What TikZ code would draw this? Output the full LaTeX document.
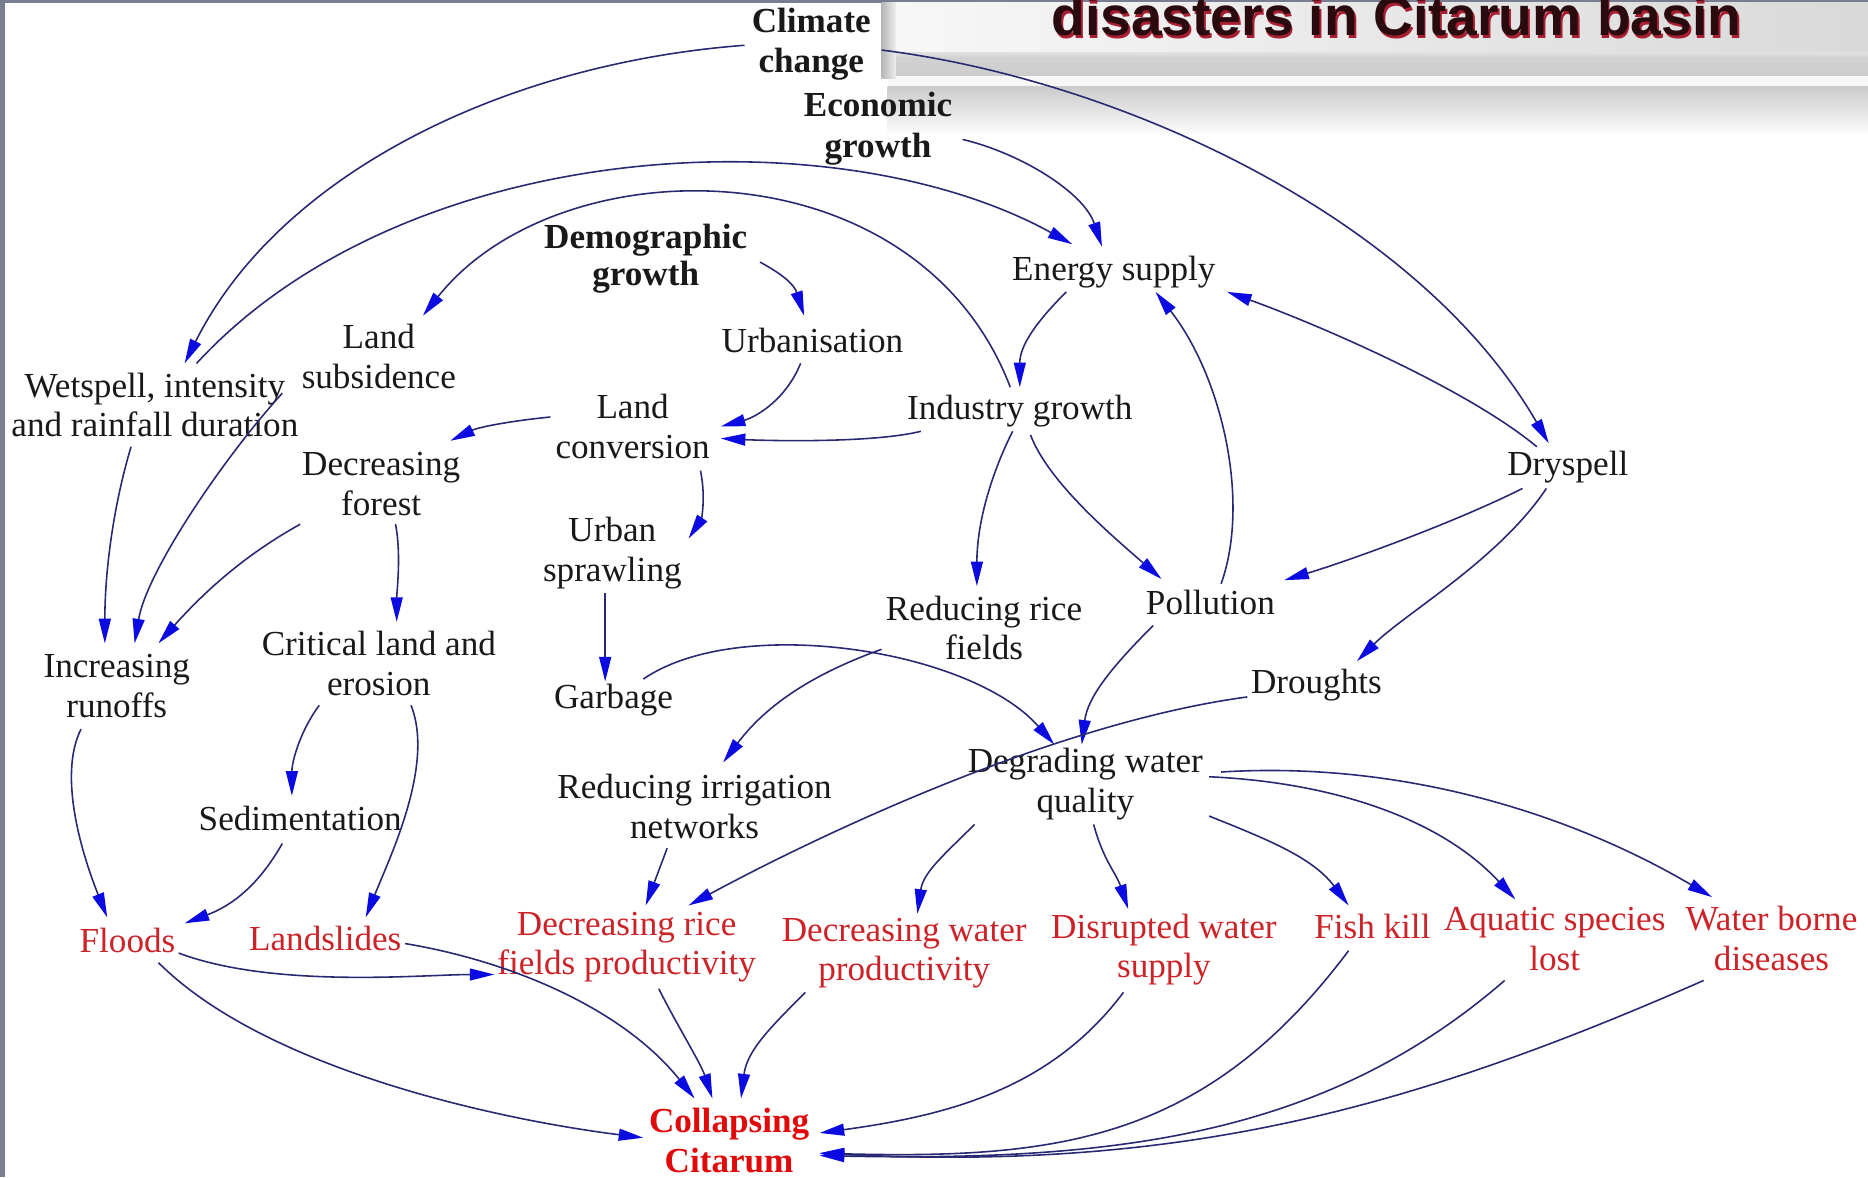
\documentclass[tikz,border=0pt]{standalone}
\usepackage{fontspec}
\setmainfont{Liberation Serif}
\newfontfamily\titlefont{Liberation Sans}
\usetikzlibrary{arrows.meta}
\definecolor{linec}{RGB}{40,40,115}
\definecolor{tipc}{RGB}{10,10,225}
\definecolor{redt}{RGB}{205,35,40}
\definecolor{redb}{RGB}{225,10,10}
\definecolor{txtc}{RGB}{25,25,25}
\definecolor{bordc}{RGB}{120,125,145}
\definecolor{ttlc}{RGB}{40,10,15}
\definecolor{ttls}{RGB}{170,30,50}
\begin{document}
\begin{tikzpicture}[x=0.011913cm,y=-0.011913cm,
 lbl/.style={align=center,inner sep=0pt,text=txtc,font=\fontsize{10}{11.3}\selectfont},
 blbl/.style={lbl,font=\fontsize{10}{11.4}\selectfont\bfseries},
 rlbl/.style={lbl,text=redt},
 edge/.style={draw=linec,line width=0.45pt,-{Triangle[length=7pt,width=3.4pt,color=tipc]}}
]
\clip (0,0) rectangle (1568,988);
\fill[white] (0,0) rectangle (1568,988);
% frame
\fill[bordc] (0,0) rectangle (4,988);
\fill[bordc] (0,0) rectangle (1568,2.5);
% banner
\shade[left color=white!97!black, right color=white!85!black] (742,2.5) rectangle (1568,44);
\shade[top color=white!88!black, bottom color=white!80!black] (752,44) rectangle (1568,50);
\shade[top color=white!82!black, middle color=white!68!black, bottom color=white!80!black] (745,50) rectangle (1568,64);
\fill[white!97!black] (745,64) rectangle (1568,73);
\shade[top color=white!80!black, bottom color=white] (745,73) rectangle (1568,115);
\shade[left color=white!72!black, right color=white!93!black] (740,2.5) rectangle (752,66);
\node[anchor=base west,inner sep=0pt,text=ttls,font=\fontsize{15.7}{16}\titlefont\bfseries] (ttlsh) at (883.5,32.5) {disasters in Citarum basin};
\node[anchor=base west,inner sep=0pt,text=ttlc,font=\fontsize{15.7}{16}\titlefont\bfseries] (ttl) at (882,30) {disasters in Citarum basin};

% nodes
\node[blbl] (CC) at (681,37) {Climate\\change};
\node[blbl] (EG) at (737,108) {Economic\\growth};
\node[blbl,font=\fontsize{10}{10.4}\selectfont\bfseries] (DG) at (542,217) {Demographic\\growth};
\node[lbl] (ES) at (935,228) {Energy supply};
\node[lbl] (LS) at (318,299) {Land\\subsidence};
\node[lbl] (UR) at (682,286) {Urbanisation};
\node[lbl] (WS) at (130,340) {Wetspell, intensity\\and rainfall duration};
\node[lbl] (LC) at (531,358) {Land\\conversion};
\node[lbl] (IG) at (856,345) {Industry growth};
\node[lbl] (DF) at (320,406) {Decreasing\\forest};
\node[lbl] (DS) at (1316,392) {Dryspell};
\node[lbl] (US) at (514,464) {Urban\\sprawling};
\node[lbl] (PO) at (1016,506) {Pollution};
\node[lbl] (RR) at (826,527) {Reducing rice\\fields};
\node[lbl] (IR) at (98,576) {Increasing\\runoffs};
\node[lbl] (CL) at (318,557) {Critical land and\\erosion};
\node[lbl] (GA) at (515,588) {Garbage};
\node[lbl] (DR) at (1105,575) {Droughts};
\node[lbl] (DW) at (911,658) {Degrading water\\quality};
\node[lbl] (RI) at (583,677) {Reducing irrigation\\networks};
\node[lbl] (SE) at (252,687) {Sedimentation};
\node[rlbl] (FL) at (107,789) {Floods};
\node[rlbl] (LA) at (273,788) {Landslides};
\node[rlbl] (DP) at (526,795) {Decreasing rice\\fields productivity};
\node[rlbl] (WP) at (759,800) {Decreasing water\\productivity};
\node[rlbl] (DWS) at (977,797) {Disrupted water\\supply};
\node[rlbl] (FK) at (1152,778) {Fish kill};
\node[rlbl] (AQ) at (1305,788) {Aquatic species\\lost};
\node[rlbl] (WB) at (1487,788) {Water borne\\diseases};
\node[blbl,text=redb] (CO) at (612,957) {Collapsing\\Citarum};

% edges
\draw[edge] ([shift={(-56,1)}]CC.center) .. controls +(-200,15) and +(80,-160) .. ([shift={(25,-35)}]WS.center);
\draw[edge] ([shift={(59,5)}]CC.center) .. controls +(200,25) and +(-110,-190) .. ([shift={(-16,-20)}]DS.center);
\draw[edge] ([shift={(71,9)}]EG.center) .. controls +(50,12) and +(-15,-45) .. ([shift={(-10,-21)}]ES.center);
\draw[edge] ([shift={(35,-35)}]WS.center) .. controls +(175,-190) and +(-200,-110) .. ([shift={(-35,-23)}]ES.center);
\draw[edge] ([shift={(-8,-20)}]IG.center) .. controls +(-78,-205) and +(115,-145) .. ([shift={(37,-34)}]LS.center);
\draw[edge] ([shift={(-20,35)}]WS.center) .. controls +(-15,50) and +(0,-60) .. ([shift={(-10,-36)}]IR.center);
\draw[edge] ([shift={(-81,31)}]LS.center) .. controls +(-50,55) and +(10,-60) .. ([shift={(15,-36)}]IR.center);
\draw[edge] ([shift={(-68,34)}]DF.center) .. controls +(-45,25) and +(40,-45) .. ([shift={(35,-36)}]IR.center);
\draw[edge] ([shift={(96,3)}]DG.center) .. controls +(22,12) and +(-8,-25) .. ([shift={(-7,-21)}]UR.center);
\draw[edge] ([shift={(-10,19)}]UR.center) .. controls +(-12,30) and +(30,-8) .. ([shift={(74,0)}]LC.center);
\draw[edge] ([shift={(-83,17)}]IG.center) .. controls +(-40,10) and +(40,2) .. ([shift={(74,10)}]LC.center);
\draw[edge] ([shift={(-69,-8)}]LC.center) .. controls +(-30,3) and +(25,-12) .. ([shift={(58,-36)}]DF.center);
\draw[edge] ([shift={(57,37)}]LC.center) .. controls +(5,25) and +(10,-15) .. ([shift={(64,-12)}]US.center);
\draw[edge] ([shift={(12,34)}]DF.center) .. controls +(5,25) and +(0,-25) .. ([shift={(15,-35)}]CL.center);
\draw[edge] ([shift={(-40,17)}]ES.center) .. controls +(-25,25) and +(0,-35) .. ([shift={(0,-20)}]IG.center);
\draw[edge] ([shift={(-6,17)}]IG.center) .. controls +(-20,40) and +(0,-50) .. ([shift={(-6,-35)}]RR.center);
\draw[edge] ([shift={(9,20)}]IG.center) .. controls +(15,40) and +(-40,-35) .. ([shift={(-41,-20)}]PO.center);
\draw[edge] ([shift={(9,-16)}]PO.center) .. controls +(25,-70) and +(55,70) .. ([shift={(35,17)}]ES.center);
\draw[edge] ([shift={(-26,-17)}]DS.center) .. controls +(-60,-50) and +(70,25) .. ([shift={(95,17)}]ES.center);
\draw[edge] ([shift={(-38,18)}]DS.center) .. controls +(-60,30) and +(50,-15) .. ([shift={(62,-19)}]PO.center);
\draw[edge] ([shift={(-18,18)}]DS.center) .. controls +(-40,60) and +(40,-40) .. ([shift={(34,-20)}]DR.center);
\draw[edge] ([shift={(-6,34)}]US.center) -- ([shift={(-7,-16)}]GA.center);
\draw[edge] ([shift={(25,-18)}]GA.center) .. controls +(80,-55) and +(-70,-80) .. ([shift={(-26,-33)}]DW.center);
\draw[edge] ([shift={(-86,18)}]RR.center) .. controls +(-70,25) and +(30,-40) .. ([shift={(24,-37)}]RI.center);
\draw[edge] ([shift={(-48,19)}]PO.center) .. controls +(-35,35) and +(5,-40) .. ([shift={(-3,-33)}]DW.center);
\draw[edge] ([shift={(-58,10)}]DR.center) .. controls +(-150,20) and +(130,-70) .. ([shift={(52,-35)}]DP.center);
\draw[edge] ([shift={(-50,35)}]CL.center) .. controls +(-15,20) and +(0,-30) .. ([shift={(-7,-19)}]SE.center);
\draw[edge] ([shift={(27,35)}]CL.center) .. controls +(20,50) and +(20,-50) .. ([shift={(34,-18)}]LA.center);
\draw[edge] ([shift={(-30,36)}]IR.center) .. controls +(-20,40) and +(-20,-50) .. ([shift={(-17,-19)}]FL.center);
\draw[edge] ([shift={(-15,21)}]SE.center) .. controls +(-20,35) and +(40,-15) .. ([shift={(48,-14)}]FL.center);
\draw[edge] ([shift={(-23,35)}]RI.center) -- ([shift={(16,-35)}]DP.center);
\draw[edge] ([shift={(-93,34)}]DW.center) .. controls +(-25,25) and +(5,-35) .. ([shift={(11,-33)}]WP.center);
\draw[edge] ([shift={(7,34)}]DW.center) .. controls +(8,30) and +(-10,-30) .. ([shift={(-30,-34)}]DWS.center);
\draw[edge] ([shift={(104,27)}]DW.center) .. controls +(50,20) and +(-30,-40) .. ([shift={(-20,-18)}]FK.center);
\draw[edge] ([shift={(104,-6)}]DW.center) .. controls +(110,5) and +(-60,-65) .. ([shift={(-33,-33)}]AQ.center);
\draw[edge] ([shift={(114,-10)}]DW.center) .. controls +(160,-10) and +(-110,-65) .. ([shift={(-50,-35)}]WB.center);
\draw[edge] ([shift={(43,11)}]FL.center) .. controls +(80,30) and +(-60,0) .. ([shift={(-111,23)}]DP.center);
\draw[edge] ([shift={(67,4)}]LA.center) .. controls +(90,15) and +(-60,-75) .. ([shift={(-29,-35)}]CO.center);
\draw[edge] ([shift={(26,19)}]FL.center) .. controls +(90,90) and +(-120,-15) .. ([shift={(-72,-2)}]CO.center);
\draw[edge] ([shift={(27,35)}]DP.center) .. controls +(15,30) and +(-10,-30) .. ([shift={(-14,-35)}]CO.center);
\draw[edge] ([shift={(-83,33)}]WP.center) .. controls +(-30,30) and +(5,-40) .. ([shift={(10,-35)}]CO.center);
\draw[edge] ([shift={(-34,36)}]DWS.center) .. controls +(-60,80) and +(110,-15) .. ([shift={(76,-6)}]CO.center);
\draw[edge] ([shift={(-20,20)}]FK.center) .. controls +(-120,160) and +(200,5) .. ([shift={(76,11)}]CO.center);
\draw[edge] ([shift={(-42,35)}]AQ.center) .. controls +(-150,130) and +(250,5) .. ([shift={(76,13)}]CO.center);
\draw[edge] ([shift={(-57,35)}]WB.center) .. controls +(-250,110) and +(300,15) .. ([shift={(76,11)}]CO.center);
\end{tikzpicture}
\end{document}
